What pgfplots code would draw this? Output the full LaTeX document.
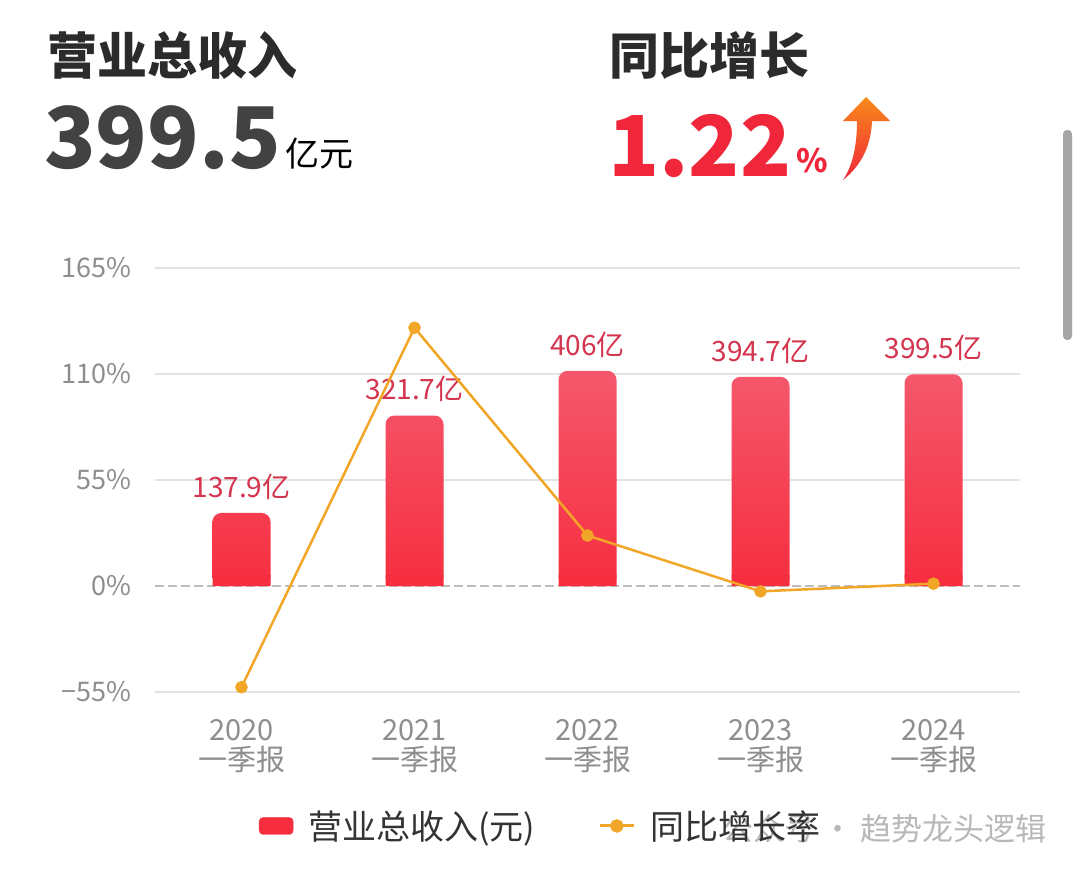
\documentclass[border=0pt]{standalone}
\usepackage{fontspec}
\setmainfont{Noto Sans CJK SC}
\usepackage{pgfplots}
\pgfplotsset{compat=1.18}
\definecolor{barTop}{HTML}{F5586C}
\definecolor{barBot}{HTML}{F62E40}
\definecolor{lbl}{HTML}{D4344E}
\definecolor{lineC}{HTML}{F2A628}
\definecolor{gridC}{HTML}{E3E3E3}
\definecolor{zeroC}{HTML}{BDBDBD}
\definecolor{tickC}{HTML}{8E8E8E}
\definecolor{titleC}{HTML}{2B2B2B}
\definecolor{bigC}{HTML}{424242}
\definecolor{redC}{HTML}{F0263A}
\definecolor{arrTop}{HTML}{F98A1A}
\definecolor{wmC}{HTML}{B8B8B8}
\definecolor{legC}{HTML}{333333}
\newcommand{\fs}[1]{\fontsize{#1}{#1}\selectfont}
\pgfplotsset{
  base/.style={
    scale only axis, width=865pt, height=424pt,
    at={(155pt,-692pt)}, anchor=south west,
    xmin=-0.5, xmax=4.5,
  },
}
\begin{document}
\begin{tikzpicture}
\fill[white] (0pt,0pt) rectangle (1080pt,-873pt);
\useasboundingbox (0pt,0pt) rectangle (1080pt,-873pt);
% header
\node[anchor=base west, inner sep=0pt, text=titleC, font=\fs{50}\bfseries] at (47pt,-74pt) {营业总收入};
\node[anchor=base west, inner sep=0pt, text=bigC, font=\fs{85}\bfseries] at (44pt,-168pt) {399.5};
\node[anchor=base west, inner sep=0pt, text=black, font=\fs{34}] at (285pt,-166pt) {亿元};
\node[anchor=base west, inner sep=0pt, text=titleC, font=\fs{50}\bfseries] at (609pt,-74pt) {同比增长};
\node[anchor=base west, inner sep=0pt, text=redC, font=\fs{84}\bfseries] at (608pt,-176pt) {1.22};
\node[anchor=base west, inner sep=0pt, text=redC, font=\fs{32}\bfseries] at (796pt,-172pt) {\%};
\shade[top color=arrTop, bottom color=redC]
  (843pt,-180pt) .. controls (862pt,-165pt) and (871pt,-145pt) .. (872pt,-121pt)
  -- (890pt,-121pt) -- (866pt,-97pt) -- (843pt,-121pt) -- (857pt,-121pt)
  .. controls (857pt,-145pt) and (853pt,-165pt) .. (843pt,-180pt) -- cycle;
% scrollbar
\fill[gray!70, rounded corners=4pt] (1063pt,-130pt) rectangle (1072pt,-340pt);
% watermark
\node[anchor=base east, inner sep=0pt, text=wmC, font=\fs{31}] at (1047pt,-840pt) {公众号 · 趋势龙头逻辑};
% percent axis: grid and labels
\begin{axis}[base, ymin=-55, ymax=165,
  axis line style={draw=none}, major tick length=0pt,
  ytick={-55,55,110,165}, yticklabels={−55\%,55\%,110\%,165\%},
  extra y ticks={0}, extra y tick labels={0\%},
  extra y tick style={grid style={zeroC, line width=2pt, dash pattern=on 9pt off 4pt}},
  ymajorgrids, grid style={gridC, line width=2pt},
  yticklabel style={font=\fs{27}, text=tickC, xshift=-20pt},
  xtick={0,1,2,3,4},
  xticklabels={{2020\\一季报},{2021\\一季报},{2022\\一季报},{2023\\一季报},{2024\\一季报}},
  xticklabel style={font=\fontsize{29}{30}\selectfont, text=tickC, align=center, yshift=-24pt},
]
\end{axis}
% bars (rounded tops)
\begin{axis}[base, ymin=-200, ymax=600, hide axis,
  ybar, bar width=58pt, bar shift=0pt]
\addplot[draw=none, shading=axis, top color=barTop, bottom color=barBot, rounded corners=9pt,
  nodes near coords, point meta=explicit symbolic,
  every node near coord/.append style={font=\fs{28}, text=lbl, yshift=10pt, rounded corners=0pt}]
  coordinates {(0,137.9) [137.9亿] (1,321.7) [321.7亿] (2,406) [406亿] (3,394.7) [394.7亿] (4,399.5) [399.5亿]};
\end{axis}
% same bars, clipped to their lowest part, to give them square bottoms
\begin{axis}[scale only axis, width=865pt, height=116.6pt,
  at={(155pt,-692pt)}, anchor=south west, xmin=-0.5, xmax=4.5,
  ymin=-200, ymax=20, hide axis, clip=true,
  ybar, bar width=58pt, bar shift=0pt]
\addplot[draw=none, fill=barBot]
  coordinates {(0,137.9) (1,321.7) (2,406) (3,394.7) (4,399.5)};
\end{axis}
% growth line + legend
\begin{axis}[base, ymin=-55, ymax=165, hide axis,
  legend style={at={(0.12,-0.316)}, anchor=west, draw=none, fill=none, legend columns=2,
    font=\fs{34}, text=legC, inner sep=0pt, nodes={inner sep=0pt},
    /tikz/every odd column/.append style={column sep=15pt},
    /tikz/every even column/.append style={column sep=63pt}},
]
\addlegendimage{legend image code/.code={\fill[barBot, rounded corners=4pt] (0pt,-8.5pt) rectangle (34pt,8.5pt);}}
\addlegendentry{营业总收入(元)}
\addplot[lineC, line width=2.5pt, mark=*, mark size=5pt, mark options={solid, fill=lineC, draw=lineC},
  legend image code/.code={\draw[lineC, line width=3pt] (0pt,0pt) -- (34pt,0pt); \fill[lineC] (17pt,0pt) circle (5.5pt);}]
  coordinates {(0,-52.5) (1,134.0) (2,26.2) (3,-2.78) (4,1.22)};
\addlegendentry{同比增长率}
\end{axis}
\end{tikzpicture}
\end{document}
